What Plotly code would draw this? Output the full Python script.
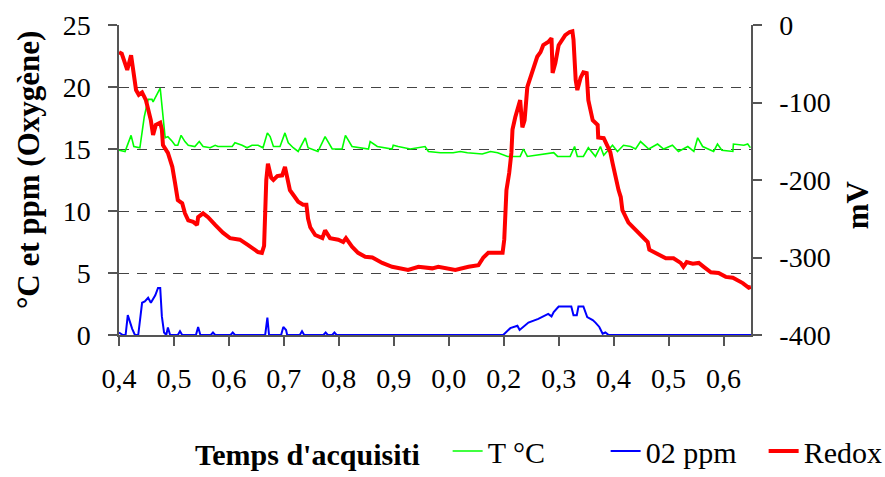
import plotly.graph_objects as go

# x in tick units (0 = first "0,4" tick, one unit per tick)
tick_pos = list(range(12))
tick_labels = ["0,4", "0,5", "0,6", "0,7", "0,8", "0,9", "0,0", "0,2", "0,3", "0,4", "0,5", "0,6"]
left_ticks = [0, 5, 10, 15, 20, 25]
right_ticks = [-400, -300, -200, -100, 0]
right_labels = ["-400", "-300", "-200", "-100", "0"]

redox_t = [0.00, 0.05, 0.15, 0.22, 0.31, 0.36, 0.42, 0.49, 0.58, 0.62, 0.67, 0.75, 0.78, 0.80, 0.89, 0.97,
           1.02, 1.07, 1.15, 1.20, 1.26, 1.35, 1.42, 1.44, 1.53, 1.62, 1.75, 1.89, 2.02, 2.20, 2.35, 2.53,
           2.60, 2.64, 2.68, 2.71, 2.77, 2.81, 2.88, 2.97, 3.02, 3.06, 3.11, 3.17, 3.26, 3.35, 3.41, 3.44,
           3.48, 3.57, 3.70, 3.75, 3.84, 3.99, 4.08, 4.13, 4.24, 4.35, 4.48, 4.61, 4.79, 4.97, 5.26, 5.45,
           5.70, 5.81, 6.12, 6.36, 6.54, 6.63, 6.72, 6.98, 7.01, 7.05, 7.10, 7.14, 7.16, 7.21, 7.27, 7.30,
           7.34, 7.38, 7.43, 7.49, 7.54, 7.61, 7.67, 7.72, 7.81, 7.87, 7.89, 7.94, 8.00, 8.07, 8.12, 8.20,
           8.25, 8.27, 8.31, 8.34, 8.40, 8.45, 8.51, 8.54, 8.62, 8.71, 8.72, 8.82, 8.89, 8.94, 8.98, 9.03,
           9.09, 9.13, 9.16, 9.27, 9.44, 9.62, 9.65, 9.82, 9.95, 10.09, 10.22, 10.27, 10.33, 10.44, 10.55,
           10.64, 10.77, 10.91, 11.04, 11.17, 11.26, 11.35, 11.46, 11.50]
redox_mv = [-35, -37, -58, -39, -84, -90, -87, -97, -123, -142, -129, -126, -135, -155, -165, -183,
            -204, -226, -230, -243, -252, -254, -258, -248, -243, -248, -258, -268, -275, -277, -284, -293,
            -294, -285, -200, -179, -197, -200, -195, -194, -183, -197, -213, -219, -228, -232, -232, -250,
            -261, -271, -275, -265, -275, -277, -280, -275, -286, -294, -299, -300, -307, -312, -316, -312,
            -314, -312, -316, -312, -310, -300, -294, -294, -277, -213, -191, -165, -135, -119, -101, -97,
            -132, -123, -80, -67, -55, -41, -35, -26, -22, -17, -62, -49, -26, -17, -13, -9,
            -8, -19, -71, -84, -68, -61, -62, -97, -123, -129, -145, -146, -155, -164, -178, -196,
            -213, -222, -239, -255, -268, -280, -290, -297, -301, -301, -307, -312, -306, -308, -307,
            -312, -319, -320, -325, -326, -329, -333, -339, -338]

temp_t = [0.00, 0.11, 0.22, 0.27, 0.38, 0.46, 0.53, 0.60, 0.62, 0.75, 0.84, 0.89, 0.97, 1.02, 1.07, 1.13,
          1.20, 1.26, 1.38, 1.46, 1.53, 1.66, 1.75, 1.80, 2.06, 2.11, 2.24, 2.33, 2.42, 2.53, 2.62, 2.70,
          2.75, 2.81, 2.93, 3.02, 3.08, 3.17, 3.26, 3.39, 3.44, 3.62, 3.75, 3.88, 4.06, 4.12, 4.24, 4.54,
          4.57, 4.70, 4.97, 4.99, 5.08, 5.30, 5.57, 5.63, 5.85, 6.08, 6.21, 6.34, 6.61, 6.76, 6.89, 7.07,
          7.30, 7.36, 7.43, 7.91, 7.98, 8.09, 8.21, 8.29, 8.34, 8.45, 8.54, 8.67, 8.76, 8.82, 8.98, 9.07,
          9.18, 9.31, 9.40, 9.49, 9.64, 9.80, 9.91, 10.07, 10.18, 10.35, 10.46, 10.53, 10.62, 10.82, 10.89,
          10.97, 11.17, 11.18, 11.37, 11.44, 11.49]
temp_c = [14.9, 14.8, 16.1, 15.2, 15.1, 17.6, 19.0, 19.0, 18.8, 19.9, 15.9, 16.0, 15.6, 15.3, 15.3, 16.1,
          15.6, 15.3, 15.2, 15.6, 15.2, 15.1, 15.3, 15.2, 15.2, 15.5, 15.3, 15.1, 15.3, 15.3, 15.1, 16.3,
          16.0, 15.2, 15.2, 16.3, 15.5, 15.1, 14.8, 15.9, 15.1, 14.8, 16.0, 15.0, 15.0, 16.1, 15.2, 15.0,
          15.6, 15.2, 15.0, 15.3, 15.2, 15.0, 15.2, 14.8, 14.7, 14.7, 14.8, 14.7, 14.6, 14.8, 14.7, 14.4,
          14.4, 15.0, 14.4, 14.7, 14.4, 14.4, 14.4, 15.2, 14.4, 14.4, 15.1, 14.4, 15.2, 14.5, 15.3, 14.8,
          15.3, 15.2, 15.0, 15.6, 15.0, 15.4, 15.0, 15.3, 14.8, 15.2, 14.8, 15.9, 15.2, 14.8, 15.4,
          14.9, 14.8, 15.4, 15.3, 15.4, 15.1]

o2_t = [0.00, 0.07, 0.12, 0.16, 0.24, 0.29, 0.35, 0.42, 0.47, 0.53, 0.58, 0.66, 0.71, 0.75, 0.78, 0.82,
        0.86, 0.89, 0.93, 1.07, 1.11, 1.15, 1.40, 1.44, 1.48, 1.67, 1.71, 1.75, 2.03, 2.07, 2.11,
        2.66, 2.70, 2.73, 2.95, 2.99, 3.04, 3.06, 3.29, 3.33, 3.37, 3.72, 3.76, 3.80, 3.88, 3.92, 3.96,
        6.99, 7.12, 7.25, 7.29, 7.34, 7.45, 7.63, 7.81, 7.87, 7.91, 8.00, 8.09, 8.23, 8.27, 8.33, 8.36,
        8.45, 8.52, 8.62, 8.67, 8.74, 8.80, 8.85, 8.91, 11.50]
o2_ppm = [0.2, 0.0, 0.0, 1.6, 0.5, 0.0, 0.0, 2.6, 2.7, 3.0, 2.6, 3.2, 3.8, 3.8, 1.5, 0.2,
          0.0, 0.6, 0.0, 0.0, 0.3, 0.0, 0.0, 0.65, 0.0, 0.0, 0.2, 0.0, 0.0, 0.2, 0.0,
          0.0, 1.4, 0.0, 0.0, 0.65, 0.4, 0.0, 0.0, 0.3, 0.0, 0.0, 0.2, 0.0, 0.0, 0.2, 0.0,
          0.0, 0.55, 0.75, 0.4, 0.6, 1.0, 1.3, 1.7, 1.5, 1.85, 2.3, 2.3, 2.3, 1.6, 1.6, 2.3,
          2.3, 1.45, 1.2, 1.0, 0.65, 0.1, 0.2, 0.0, 0.0]

FONT = "Liberation Serif"
AX = "#555555"

fig = go.Figure()
fig.add_trace(go.Scatter(x=temp_t, y=temp_c, name="T °C", mode="lines",
                         line=dict(color="#00FF00", width=1.6)))
fig.add_trace(go.Scatter(x=o2_t, y=o2_ppm, name="02 ppm", mode="lines",
                         line=dict(color="#0000FF", width=2)))
fig.add_trace(go.Scatter(x=redox_t, y=redox_mv, name="Redox", mode="lines", yaxis="y2",
                         line=dict(color="#FF0000", width=4)))

common_tick = dict(tickcolor=AX, tickwidth=1.5, ticklen=9)

fig.update_layout(
    width=885, height=477,
    margin=dict(l=119, r=134, t=25, b=142, autoexpand=False),
    paper_bgcolor="white", plot_bgcolor="white",
    font=dict(family=FONT, color="black", size=28),
    xaxis=dict(range=[0, 11.5], tickvals=tick_pos, ticktext=tick_labels, ticks="outside",
               showline=True, linecolor=AX, linewidth=1.5, showgrid=False, zeroline=False,
               automargin=False, tickfont=dict(size=28), ticklabelstandoff=9, **common_tick),
    xaxis2=dict(range=[0, 11.5], overlaying="x", anchor="y", side="bottom", tickvals=tick_pos,
                ticks="inside", showticklabels=False, showgrid=False, zeroline=False,
                automargin=False, **common_tick),
    yaxis=dict(range=[0, 25], tickvals=left_ticks, ticks="outside", showline=True, linecolor=AX,
               linewidth=1.5, showgrid=True, gridcolor="#444444", gridwidth=1, griddash="10px,8px",
               zeroline=False, automargin=False, tickfont=dict(size=28), ticklabelstandoff=12,
               **common_tick),
    yaxis3=dict(range=[0, 25], tickvals=left_ticks, overlaying="y", side="left", anchor="x",
                ticks="inside", showticklabels=False, showgrid=False, zeroline=False,
                automargin=False, **common_tick),
    yaxis2=dict(range=[-400, 0], tickvals=right_ticks, ticktext=right_labels, overlaying="y",
                side="right", anchor="x", ticks="outside", showline=True, linecolor=AX,
                linewidth=1.5, showgrid=False, zeroline=False, automargin=False,
                tickfont=dict(size=28), ticklabelstandoff=12, **common_tick),
    yaxis4=dict(range=[-400, 0], tickvals=right_ticks, overlaying="y", side="right", anchor="x",
                ticks="inside", showticklabels=False, showgrid=False, zeroline=False,
                automargin=False, **common_tick),
    legend=dict(orientation="h", x=0.52, xanchor="left", y=-0.458, yanchor="bottom",
                font=dict(size=30, family=FONT), bgcolor="rgba(0,0,0,0)", itemwidth=30,
                entrywidth=113, entrywidthmode="pixels", borderwidth=0, tracegroupgap=0),
    annotations=[
        dict(text="<b>°C et ppm (Oxygène)</b>", xref="paper", yref="paper", x=-0.144, y=0.532,
             textangle=-90, showarrow=False, xanchor="center", yanchor="middle",
             font=dict(size=31, family=FONT)),
        dict(text="<b>mV</b>", xref="paper", yref="paper", x=1.168, y=0.419,
             textangle=-90, showarrow=False, xanchor="center", yanchor="middle",
             font=dict(size=31, family=FONT)),
        dict(text="<b>Temps d'acquisiti</b>", xref="paper", yref="paper", x=0.479, y=-0.385,
             showarrow=False, xanchor="right", yanchor="middle",
             font=dict(size=30, family=FONT)),
    ],
)

fig.write_html("out.html")
